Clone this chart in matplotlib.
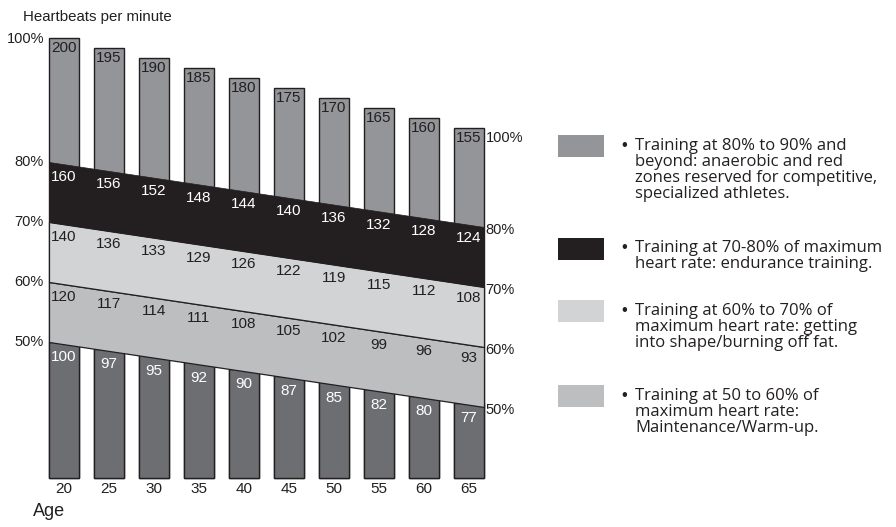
import numpy as np
import matplotlib.pyplot as plt
from matplotlib.patches import Rectangle

# data
ages = [20, 25, 30, 35, 40, 45, 50, 55, 60, 65]
max_hr = [200, 195, 190, 185, 180, 175, 170, 165, 160, 155]
hr_80 = [160, 156, 152, 148, 144, 140, 136, 132, 128, 124]
hr_70 = [140, 136, 133, 129, 126, 122, 119, 115, 112, 108]
hr_60 = [120, 117, 114, 111, 108, 105, 102, 99, 96, 93]
hr_50 = [100, 97, 95, 92, 90, 87, 85, 82, 80, 77]
zone_pcts = [80, 70, 60, 50]

legend_colors = ['#939598', '#231f20', '#d1d3d4', '#bcbec0']
legend_texts = [
    'Training at 80% to 90% and\nbeyond: anaerobic and red\nzones reserved for competitive,\nspecialized athletes.',
    'Training at 70-80% of maximum\nheart rate: endurance training.',
    'Training at 60% to 70% of\nmaximum heart rate: getting\ninto shape/burning off fat.',
    'Training at 50 to 60% of\nmaximum heart rate:\nMaintenance/Warm-up.',
]

C_TOP = '#939598'
C_BLACK = '#231f20'
C_LIGHT = '#d1d3d4'
C_MID = '#bcbec0'
C_LOW = '#6d6e71'
EDGE = '#231f20'

plt.rcParams['font.family'] = ['Liberation Sans', 'DejaVu Sans']

W, H = 896, 527
fig = plt.figure(figsize=(W / 100, H / 100), dpi=100)
ax = fig.add_axes([49 / W, 49 / H, 435 / W, 440 / H])

BAR_W = 10 / 3
x0 = ages[0] - BAR_W / 2
x1 = ages[-1] + BAR_W / 2
BASE = -20


def zone_line(pct, x):
    # schematic zone boundary: sloped straight line across the chart
    x = np.asarray(x, dtype=float)
    return 3 * pct - 102 - 32.5 * (x - x0) / (x1 - x0)


ages_a = np.array(ages, dtype=float)

# full bars (upper part shows above 80% line)
ax.bar(ages, np.array(max_hr) - BASE, bottom=BASE, width=BAR_W, color=C_TOP,
       edgecolor=EDGE, linewidth=1, clip_on=False, zorder=1)
# lower dark part of bars, top hidden under the 50-60% band
low_tops = zone_line(50, ages_a - BAR_W / 2)
ax.bar(ages, low_tops - BASE, bottom=BASE, width=BAR_W, color=C_LOW,
       edgecolor=EDGE, linewidth=1, clip_on=False, zorder=2)

xs = np.array([x0, x1])
ax.fill_between(xs, zone_line(50, xs), zone_line(60, xs), facecolor=C_MID,
                edgecolor=EDGE, linewidth=0.9, zorder=3, clip_on=False)
ax.fill_between(xs, zone_line(60, xs), zone_line(70, xs), facecolor=C_LIGHT,
                edgecolor=EDGE, linewidth=0.9, zorder=3, clip_on=False)
ax.fill_between(xs, zone_line(70, xs), zone_line(80, xs), facecolor=C_BLACK,
                edgecolor=C_BLACK, linewidth=0.5, zorder=4, clip_on=False)

# value labels
for a, v in zip(ages, max_hr):
    ax.annotate(str(v), (a, v), xytext=(0, -2.5), textcoords='offset points',
                ha='center', va='top', fontsize=11, color=C_BLACK, zorder=6)

rows = [(80, hr_80, 'white'), (70, hr_70, C_BLACK), (60, hr_60, C_BLACK), (50, hr_50, 'white')]
for pct, vals, col in rows:
    for a, v in zip(ages, vals):
        ax.annotate(str(v), (a, zone_line(pct, a)), xytext=(0, -9.5),
                    textcoords='offset points', ha='center', va='center',
                    fontsize=11, color=col, zorder=6)

# percent labels left and right
ax.annotate('100%', (x0, max_hr[0]), xytext=(-3, -1), textcoords='offset points',
            ha='right', va='center', fontsize=10.5, color=C_BLACK, annotation_clip=False)
ax.annotate('100%', (x1, max_hr[-1]), xytext=(1, -7), textcoords='offset points',
            ha='left', va='center', fontsize=10.5, color=C_BLACK, annotation_clip=False)
for pct in zone_pcts:
    ax.annotate(f'{pct}%', (x0, zone_line(pct, x0)), xytext=(-4, 0), textcoords='offset points',
                ha='right', va='center', fontsize=10.5, color=C_BLACK, annotation_clip=False)
    ax.annotate(f'{pct}%', (x1, zone_line(pct, x1)), xytext=(1, -2), textcoords='offset points',
                ha='left', va='center', fontsize=10.5, color=C_BLACK, annotation_clip=False)

ax.set_xlim(x0, x1)
ax.set_ylim(BASE, 200)
ax.set_xticks(ages)
ax.set_xticklabels([str(a) for a in ages], fontsize=11, color=C_BLACK)
ax.tick_params(axis='x', length=0, pad=3)
ax.set_yticks([])
for s in ax.spines.values():
    s.set_visible(False)
ax.patch.set_visible(False)

fig.text(23 / W, 1 - 17 / H, 'Heartbeats per minute', fontsize=10.8, va='center', color=C_BLACK)
fig.text(33 / W, 1 - 512 / H, 'Age', fontsize=13, va='center', color=C_BLACK)

# legend
sw_tops = [135, 238, 300, 385]
text_tops = [138, 240, 303, 388]
for col, txt, top, tt in zip(legend_colors, legend_texts, sw_tops, text_tops):
    fig.add_artist(Rectangle((558 / W, 1 - (top + 22) / H), 46 / W, 22 / H,
                             transform=fig.transFigure, facecolor=col, edgecolor='none'))
    fig.text(624.5 / W, 1 - tt / H, '\u2022', fontsize=12, va='top', ha='center',
             color=C_BLACK)
    fig.text(635 / W, 1 - tt / H, txt, fontsize=12, va='top', linespacing=1.0,
             family=['Open Sans', 'DejaVu Sans'], color=C_BLACK)

fig.savefig('out.png', dpi=100)
